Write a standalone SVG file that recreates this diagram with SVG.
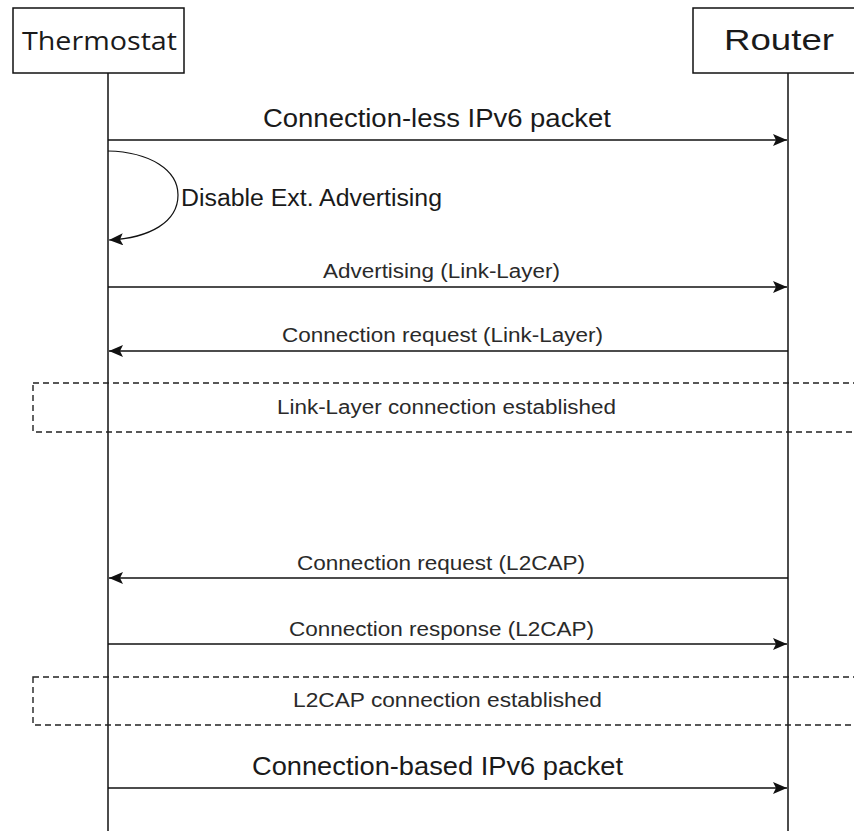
<svg xmlns="http://www.w3.org/2000/svg" width="854" height="831" viewBox="0 0 854 831">
  <style>
    .head { fill: #ffffff; stroke: #111111; stroke-width: 1.5; }
    .life { stroke: #111111; stroke-width: 1.5; fill: none; }
    .msg { stroke: #111111; stroke-width: 1.5; fill: none; }
    .loop { stroke: #111111; stroke-width: 1.2; fill: none; }
    .note { fill: none; stroke: #222222; stroke-width: 1.4; stroke-dasharray: 6 4; }
    .big { font-family: "Liberation Sans", Arial, sans-serif; fill: #1a1a1a; }
    .small { font-family: "Liberation Sans", Arial, sans-serif; fill: #2a2a2a; font-size: 20px; }
  </style>
  <defs>
    <marker id="arrow" markerWidth="15" markerHeight="12" refX="14" refY="6" orient="auto" markerUnits="userSpaceOnUse">
      <path d="M0,0 L14,6 L0,12 L3,6 Z" fill="#111111"/>
    </marker>
  </defs>

  <rect width="854" height="831" fill="#ffffff"/>

  <!-- Participants -->
  <g id="thermostat">
    <line class="life" x1="108" y1="73" x2="108" y2="831"/>
    <rect class="head" x="13" y="8" width="171" height="65"/>
    <text x="22" y="50" font-family="'Open Sans', 'Noto Sans', sans-serif" font-size="25" fill="#1a1a1a" textLength="155" lengthAdjust="spacingAndGlyphs">Thermostat</text>
  </g>
  <g id="router">
    <line class="life" x1="788" y1="73" x2="788" y2="831"/>
    <rect class="head" x="693" y="8" width="170" height="65"/>
    <text class="big" x="724" y="50" font-size="30" textLength="110" lengthAdjust="spacingAndGlyphs">Router</text>
  </g>

  <!-- Connection state frames -->
  <g id="ll-established">
    <rect class="note" x="33" y="383" width="830" height="49"/>
    <text class="small" x="277" y="414" textLength="339" lengthAdjust="spacingAndGlyphs">Link-Layer connection established</text>
  </g>
  <g id="l2cap-established">
    <rect class="note" x="33" y="677" width="830" height="48"/>
    <text class="small" x="293" y="707" textLength="309" lengthAdjust="spacingAndGlyphs">L2CAP connection established</text>
  </g>

  <!-- Messages -->
  <g id="connectors">
    <line class="msg" x1="108" y1="140" x2="787" y2="140" marker-end="url(#arrow)"/>
    <path class="loop" d="M108,151 C150,152 178,170 178,195 C178,222 150,238 109,240" marker-end="url(#arrow)"/>
    <line class="msg" x1="108" y1="287" x2="787" y2="287" marker-end="url(#arrow)"/>
    <line class="msg" x1="788" y1="351" x2="109" y2="351" marker-end="url(#arrow)"/>
    <line class="msg" x1="788" y1="578" x2="109" y2="578" marker-end="url(#arrow)"/>
    <line class="msg" x1="108" y1="644" x2="787" y2="644" marker-end="url(#arrow)"/>
    <line class="msg" x1="108" y1="788" x2="787" y2="788" marker-end="url(#arrow)"/>
  </g>

  <!-- Message labels -->
  <g id="labels">
    <text class="big" x="263" y="127" font-size="25" textLength="348" lengthAdjust="spacingAndGlyphs">Connection-less IPv6 packet</text>
    <text class="big" x="181" y="206" font-size="23" textLength="261" lengthAdjust="spacingAndGlyphs">Disable Ext. Advertising</text>
    <text class="small" x="323" y="278" textLength="237" lengthAdjust="spacingAndGlyphs">Advertising (Link-Layer)</text>
    <text class="small" x="282" y="342" textLength="321" lengthAdjust="spacingAndGlyphs">Connection request (Link-Layer)</text>
    <text class="small" x="297" y="570" textLength="288" lengthAdjust="spacingAndGlyphs">Connection request (L2CAP)</text>
    <text class="small" x="289" y="636" textLength="305" lengthAdjust="spacingAndGlyphs">Connection response (L2CAP)</text>
    <text class="big" x="252" y="775" font-size="26" textLength="371" lengthAdjust="spacingAndGlyphs">Connection-based IPv6 packet</text>
  </g>
</svg>
